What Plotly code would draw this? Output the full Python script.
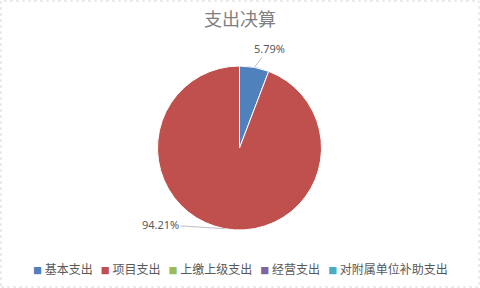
import math
import plotly.graph_objects as go

title = "支出决算"
labels = ["基本支出", "项目支出", "上缴上级支出", "经营支出", "对附属单位补助支出"]
values = [5.79, 94.21, 0, 0, 0]
colors = ["#4F81BD", "#C0504D", "#9BBB59", "#8064A2", "#4BACC6"]

# styling / layout constants (pixels)
W, H = 480, 288
M = 1
CX, CY, R = 239.5, 148.0, 82.0          # pie centre/radius in page pixels (from top)
label_offsets = {0: (15, -19), 1: (-64, -4)}  # text offset from slice edge point

pw, ph = W - 2 * M, H - 2 * M
def px2paper(x, y_top):
    return (x - M) / pw, (H - y_top - M) / ph

cxp, cyp = px2paper(CX, CY)
dx, dy = R / pw, R / ph

fig = go.Figure()
fig.add_trace(go.Pie(
    labels=labels, values=values, sort=False, direction="clockwise", rotation=0,
    marker=dict(colors=colors, line=dict(color="white", width=1)),
    textinfo="none", hoverinfo="label+percent", showlegend=False,
    domain=dict(x=[cxp - dx, cxp + dx], y=[cyp - dy, cyp + dy]),
))

total = sum(values)
annotations = []
cum = 0.0
for i, v in enumerate(values):
    if v <= 0:
        continue
    mid = (cum + v / 2) / total
    cum += v
    th = 2 * math.pi * mid
    ex = CX + R * math.sin(th)
    ey = CY - R * math.cos(th)
    xp, yp = px2paper(ex, ey)
    ax, ay = label_offsets.get(i, (0, -20))
    annotations.append(dict(
        x=xp, y=yp, xref="paper", yref="paper",
        text=f"{v / total * 100:.2f}%", showarrow=True, arrowhead=0,
        arrowwidth=1, arrowcolor="#BFBFBF", ax=ax, ay=ay,
        font=dict(family="Noto Sans, Noto Sans CJK SC", size=11, color="#595959"),
    ))

# custom legend built from labels/colors
nb = "\u00a0"
parts = []
for lab, col in zip(labels, colors):
    parts.append(f"<span style='color:{col};font-size:9px'>■</span>{nb}{lab}")
legend_text = (nb * 3).join(parts)
annotations.append(dict(
    x=0.5, y=(H - 268 - M) / ph, xref="paper", yref="paper",
    xanchor="center", yanchor="middle", showarrow=False, text=legend_text,
    font=dict(family="Noto Sans CJK SC", size=12, color="#595959"),
))

fig.update_layout(
    width=W, height=H,
    margin=dict(l=M, r=M, t=M, b=M),
    paper_bgcolor="white", plot_bgcolor="white",
    title=dict(text=title, x=0.5, xanchor="center", y=1 - 20 / H, yanchor="middle",
               font=dict(family="Noto Sans CJK SC", size=18, color="#7F7F7F")),
    annotations=annotations,
    shapes=[dict(type="rect", xref="paper", yref="paper", x0=0, y0=0, x1=1, y1=1,
                 line=dict(color="#D9D9D9", width=1, dash="dot"))],
    showlegend=False,
)

fig.write_html("out.html")
